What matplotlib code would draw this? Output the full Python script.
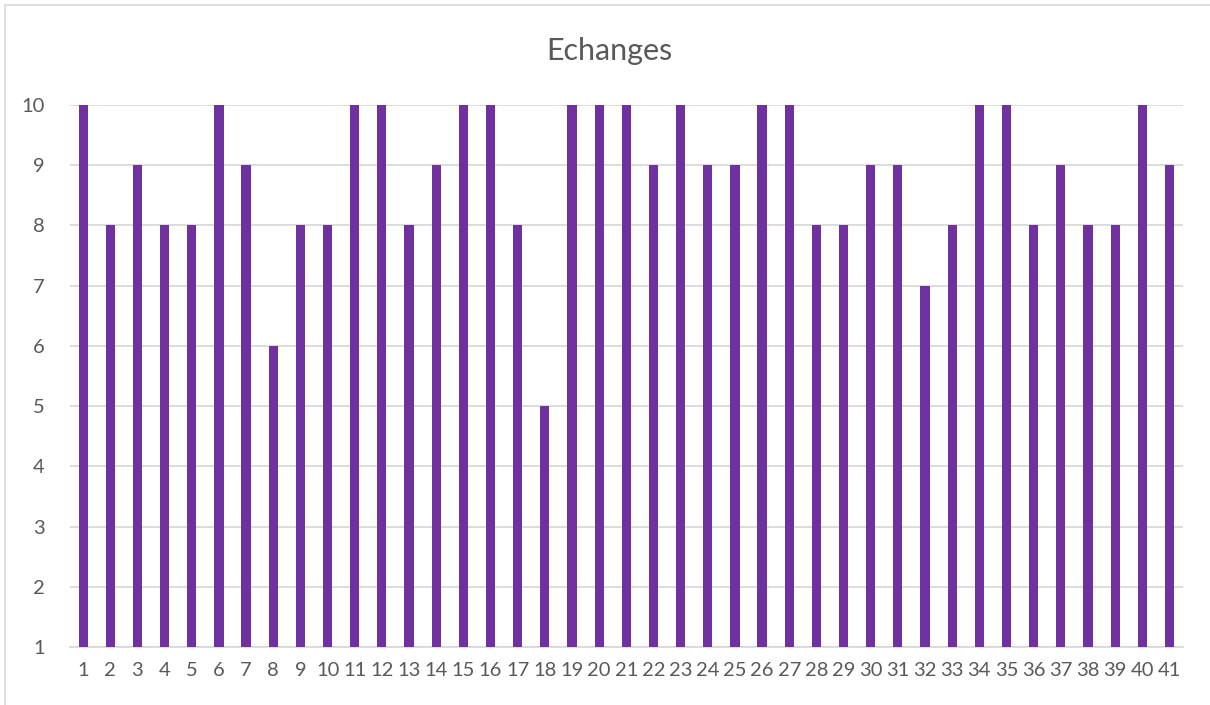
import matplotlib.pyplot as plt
from matplotlib.patches import Rectangle

plt.rcParams['font.family'] = ['Lato', 'DejaVu Sans']

# Echanges par partie
parties = list(range(1, 42))
echanges = [10, 8, 9, 8, 8, 10, 9, 6, 8, 8,
            10, 10, 8, 9, 10, 10, 8, 5, 10, 10,
            10, 9, 10, 9, 9, 10, 10, 8, 8, 9,
            9, 7, 8, 10, 10, 8, 9, 8, 8, 10, 9]
y_ticks = list(range(1, 11))

fig = plt.figure(figsize=(12.1, 7.05), dpi=100)
ax = fig.add_axes([0.0575, 0.0823, 0.9202, 0.7687])

# les barres partent de 1 (minimum de l'axe)
heights = [v - 1 for v in echanges]
ax.bar(parties, heights, bottom=1, width=0.34, color='#7030A0', zorder=3)

ax.set_xlim(0.5, 41.5)
ax.set_ylim(1, 10)
ax.set_yticks(y_ticks)
ax.set_xticks(parties)
ax.grid(axis='y', color='#D9D9D9', linewidth=1.3, zorder=0)
for s in ['top', 'right', 'left']:
    ax.spines[s].set_visible(False)
ax.spines['bottom'].set_color('#D9D9D9')
ax.spines['bottom'].set_linewidth(1.3)
ax.tick_params(axis='both', length=0, labelsize=14.5, labelcolor='#595959')
ax.tick_params(axis='x', pad=11)
ax.tick_params(axis='y', pad=18)

fig.text(0.504, 0.928, 'Echanges', ha='center', va='center',
         fontsize=22, color='#595959')

# cadre du graphique
fig.patches.append(Rectangle((0.004, -0.01), 1.0, 1.003, transform=fig.transFigure,
                             fill=False, edgecolor='#D9D9D9', linewidth=1.2))

fig.savefig('out.png', dpi=100)
